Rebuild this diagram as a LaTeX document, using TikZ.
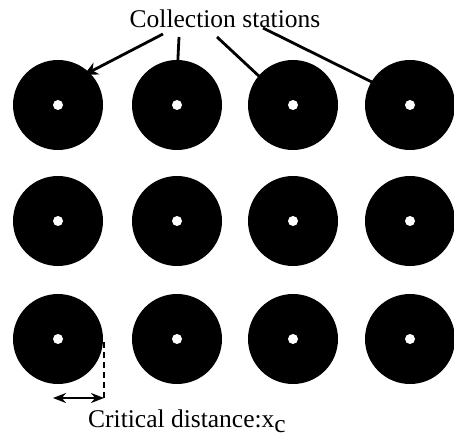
\documentclass[tikz,border=0pt]{standalone}
\usepackage{fontspec}
\setmainfont{Liberation Serif}
\usetikzlibrary{arrows.meta}
\begin{document}
\begin{tikzpicture}[x=1pt,y=-1pt,
  station/.style={circle,fill=black,minimum size=90pt,inner sep=0pt},
  hole/.style={circle,fill=white,minimum size=10pt,inner sep=0pt},
  lead/.style={line width=2.8pt,-{Stealth[length=14pt,width=13pt]}},
  lbl/.style={font=\fontsize{25.5}{30}\selectfont,inner sep=0pt},
  dimline/.style={line width=2.6pt,dashed,dash pattern=on 6pt off 4pt},
  dimarrow/.style={line width=2.6pt,{Stealth[length=13pt,width=10pt]}-{Stealth[length=13pt,width=10pt]}}]
\useasboundingbox (0,0) rectangle (454,446);
% stations
\foreach \r/\y in {1/105,2/221,3/339}{
  \foreach \c/\x in {1/58,2/177,3/293,4/410}{
    \node[station] (c\r\c) at (\x,\y) {};
    \node[hole] (h\r\c) at (c\r\c) {};
  }
}
% labels
\node[lbl,anchor=base] (top) at (225,28) {Collection stations};
\node[lbl,anchor=base west] (crit) at (88,427) {Critical distance:x\raisebox{-0.5ex}{c}};
% leaders
\coordinate (s1) at (163,34); \coordinate (e1) at (84,75);
\coordinate (s2) at (179,37); \coordinate (e2) at (177,78);
\coordinate (s3) at (217,37); \coordinate (e3) at (276,92);
\coordinate (s4) at (263,28); \coordinate (e4) at (388,90);
\draw[lead] (s1) -- (e1);
\draw[lead] (s2) -- (e2);
\draw[lead] (s3) -- (e3);
\draw[lead] (s4) -- (e4);
% critical distance
\coordinate (d1) at (104,342);
\coordinate (d2) at (104,398);
\coordinate (d0) at (53,398);
\draw[dimline] (d1) -- (d2);
\draw[dimarrow] (d0) -- (d2);
\end{tikzpicture}
\end{document}
